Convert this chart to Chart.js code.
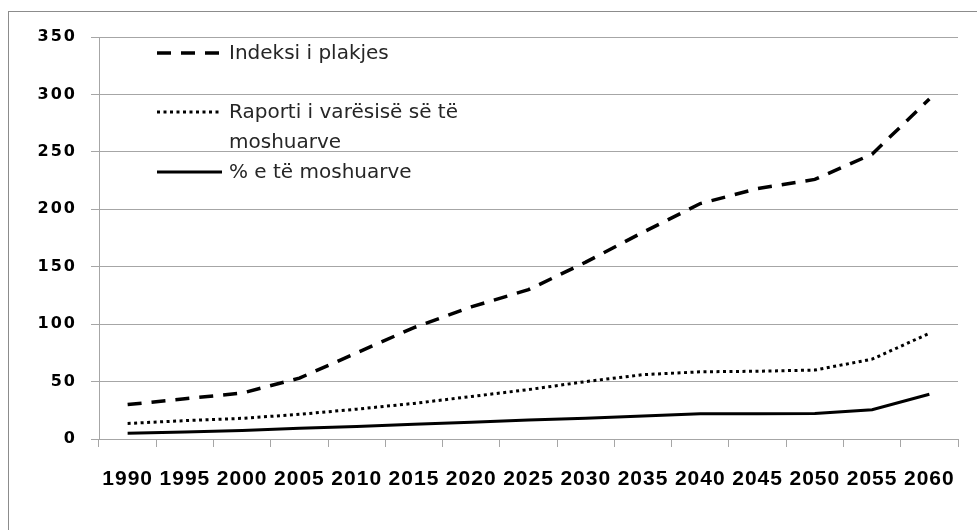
<!DOCTYPE html>
<html>
<head>
<meta charset="utf-8">
<script src="https://cdn.jsdelivr.net/npm/chart.js@4.4.1/dist/chart.umd.min.js"></script>
<style>
  html, body { margin: 0; padding: 0; background: #fff; }
  #wrap { width: 977px; height: 530px; position: relative; }
</style>
</head>
<body>
<div id="wrap"><canvas id="myChart" width="977" height="530"></canvas></div>
<script>
// DATA
const years = ['1990', '1995', '2000', '2005', '2010', '2015', '2020', '2025',
  '2030', '2035', '2040', '2045', '2050', '2055', '2060'];
const indeksiPlakjes = [30, 35, 40, 53, 75, 97, 115, 130, 154, 180, 205, 218, 226, 248, 296];
const raportiVaresise = [13.5, 16, 18, 21.5, 26, 31, 37, 43, 50, 56, 58.5, 59, 60, 69.5, 92];
const perqindjaMoshuarve = [5, 6, 7.3, 9.3, 10.8, 12.8, 14.5, 16.5, 18, 20, 22, 22, 22.2, 25.5, 39];
const seriesNames = ['Indeksi i plakjes', 'Raporti i varësisë së të moshuarve', '% e të moshuarve'];
const yTicks = [0, 50, 100, 150, 200, 250, 300, 350];

const gridGray = '#a6a6a6';

// frame round the whole chart; y labels are drawn (z 0) with wide spacing,
// x labels (z 1) come after the lines with a smaller spacing
const framePlugin = {
  id: 'frame',
  beforeDraw(chart) {
    const c = chart.ctx;
    c.save();
    c.strokeStyle = '#8c8c8c';
    c.lineWidth = 1;
    c.strokeRect(8.5, 11.5, 1000, 600);
    c.restore();
    c.letterSpacing = '2px';
  },
  beforeDatasetsDraw(chart) {
    chart.ctx.letterSpacing = '1px';
  }
};

// legend drawn inside the plot, top left, with wrapping
const legendPlugin = {
  id: 'innerLegend',
  afterDraw(chart) {
    const c = chart.ctx;
    const baselines = [59, 118, 178];
    c.save();
    c.letterSpacing = '0px';
    c.font = '20px "DejaVu Sans"';
    c.fillStyle = '#262626';
    c.textBaseline = 'alphabetic';
    chart.data.datasets.forEach((ds, i) => {
      const by = baselines[i];
      // sample line
      c.save();
      c.strokeStyle = ds.borderColor;
      c.lineWidth = ds.borderWidth;
      c.setLineDash(ds.borderDash || []);
      c.beginPath();
      c.moveTo(157, by - 6);
      c.lineTo(222, by - 6);
      c.stroke();
      c.restore();
      // wrap text
      const words = ds.label.split(' ');
      let line = '';
      let y = by;
      words.forEach(w => {
        const test = line ? line + ' ' + w : w;
        if (c.measureText(test).width > 245 && line) {
          c.fillText(line, 229, y);
          line = w;
          y += 30;
        } else {
          line = test;
        }
      });
      c.fillText(line, 229, y);
    });
    c.restore();
    c.letterSpacing = '0px';
  }
};

const ctx = document.getElementById('myChart');

new Chart(ctx, {
  type: 'line',
  data: {
    labels: years,
    datasets: [
      {
        label: seriesNames[0],
        data: indeksiPlakjes,
        borderColor: '#000',
        borderWidth: 3.5,
        borderDash: [14, 10],
        pointRadius: 0,
        tension: 0
      },
      {
        label: seriesNames[1],
        data: raportiVaresise,
        borderColor: '#000',
        borderWidth: 3,
        borderDash: [3, 3.5],
        pointRadius: 0,
        tension: 0
      },
      {
        label: seriesNames[2],
        data: perqindjaMoshuarve,
        borderColor: '#000',
        borderWidth: 3,
        pointRadius: 0,
        tension: 0
      }
    ]
  },
  options: {
    responsive: false,
    animation: false,
    layout: { padding: { left: 0, top: 37, right: 19, bottom: 0 } },
    plugins: {
      legend: { display: false },
      tooltip: { enabled: false }
    },
    scales: {
      x: {
        offset: true,
        grid: {
          offset: true,
          drawOnChartArea: false,
          color: gridGray,
          tickLength: 8
        },
        border: { color: gridGray },
        ticks: {
          z: 1,
          autoSkip: false,
          maxRotation: 0,
          padding: 20,
          color: '#000',
          font: { family: 'Liberation Sans', size: 21, weight: 'bold' }
        },
        afterFit(scale) { scale.height = 91; }
      },
      y: {
        min: yTicks[0],
        max: yTicks[yTicks.length - 1],
        afterBuildTicks(scale) { scale.ticks = yTicks.map(v => ({ value: v })); },
        grid: { color: gridGray, tickLength: 8 },
        border: { color: gridGray },
        ticks: {
          padding: 14,
          color: '#000',
          font: { family: 'DejaVu Sans', size: 16, weight: 'bold' }
        },
        afterFit(scale) { scale.width = 99; }
      }
    }
  },
  plugins: [framePlugin, legendPlugin]
});
</script>
</body>
</html>
